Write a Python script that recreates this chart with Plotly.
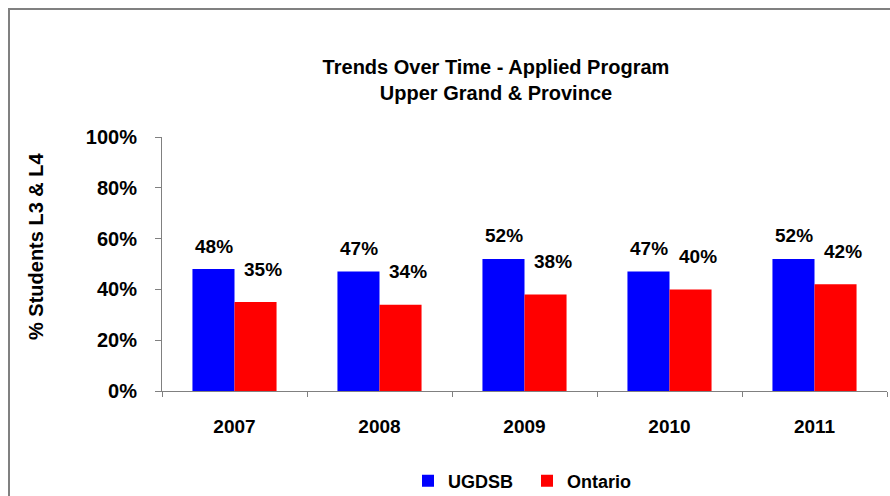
import plotly.graph_objects as go

years = ["2007", "2008", "2009", "2010", "2011"]
ugdsb = [0.48, 0.47, 0.52, 0.47, 0.52]
ontario = [0.35, 0.34, 0.38, 0.40, 0.42]
series_names = ["UGDSB", "Ontario"]
colors = ["#0000FF", "#FF0000"]
y_ticks = [0, 0.2, 0.4, 0.6, 0.8, 1.0]

FONT = "Liberation Sans, Arial, sans-serif"
W, H = 890, 496
ML, MR, MT, MB = 162, 3, 137, 105
pw = W - ML - MR
ph = H - MT - MB


def bold(size):
    return dict(family=FONT, size=size, color="black", weight="bold")


fig = go.Figure()
for name, vals, col in zip(series_names, [ugdsb, ontario], colors):
    fig.add_trace(go.Bar(x=years, y=vals, name=name, marker_color=col,
                         marker_line_width=0, hoverinfo="skip"))

annotations = []
for i, v in enumerate(ugdsb):
    annotations.append(dict(x=i, y=v, xref="x", yref="y", text=f"{round(v*100)}%",
                            showarrow=False, xshift=-21, yshift=23, yanchor="middle",
                            font=bold(19)))
for i, v in enumerate(ontario):
    annotations.append(dict(x=i, y=v, xref="x", yref="y", text=f"{round(v*100)}%",
                            showarrow=False, xshift=28, yshift=33, yanchor="middle",
                            font=bold(19)))
# y-axis title
annotations.append(dict(x=(36 - ML) / pw, y=(H - MB - 246) / ph, xref="paper", yref="paper",
                        text="% Students L3 & L4", textangle=-90, showarrow=False,
                        xanchor="center", yanchor="middle", font=bold(20)))

fig.update_layout(
    width=W, height=H,
    margin=dict(l=ML, r=MR, t=MT, b=MB, pad=0),
    paper_bgcolor="white", plot_bgcolor="white",
    barmode="group", bargap=0.42, bargroupgap=0,
    title=dict(text="Trends Over Time - Applied Program<br>Upper Grand & Province",
               x=496 / W, xref="container", xanchor="center",
               y=1 - 74 / H, yref="container", yanchor="middle",
               font=bold(20)),
    font=bold(19),
    xaxis=dict(type="category", range=[-0.5, 4.5], showline=True, linecolor="#808080",
               linewidth=1, ticks="outside", ticklen=5, tickcolor="#808080",
               tickson="boundaries", showgrid=False, zeroline=False,
               tickfont=bold(19), ticklabelstandoff=18, fixedrange=True),
    yaxis=dict(range=[0, 1], tickvals=y_ticks, tickformat=".0%", showline=True,
               linecolor="#808080", linewidth=1, ticks="outside", ticklen=6,
               tickcolor="#808080", showgrid=False, zeroline=False,
               tickfont=bold(20), ticklabelstandoff=14, fixedrange=True),
    legend=dict(orientation="h", xref="container", yref="container",
                x=408 / W, xanchor="left",
                y=(H - 481) / H, yanchor="middle",
                entrywidth=74, entrywidthmode="pixels",
                font=bold(18), bgcolor="rgba(0,0,0,0)"),
    annotations=annotations,
    shapes=[dict(type="rect", xref="paper", yref="paper",
                 x0=(9 - ML) / pw, x1=(960 - ML) / pw,
                 y0=(H - MB - 560) / ph, y1=(H - MB - 9) / ph,
                 line=dict(color="#808080", width=2), fillcolor="rgba(0,0,0,0)",
                 layer="below")],
)

fig.write_html("out.html", config={"displayModeBar": False},
               post_script="document.body.style.margin='0';")
